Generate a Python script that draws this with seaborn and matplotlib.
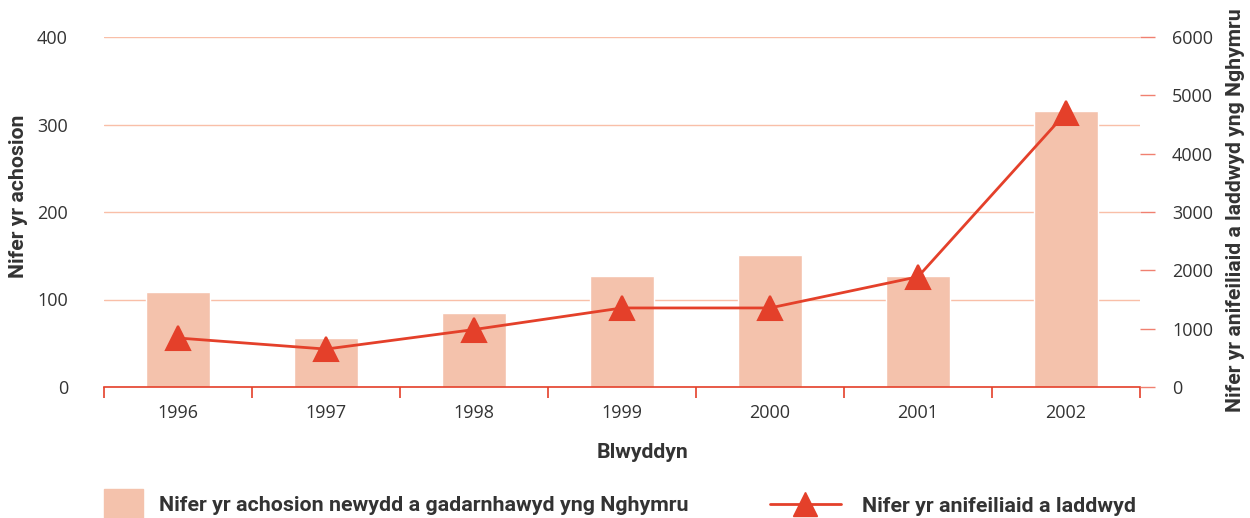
import pandas as pd
import seaborn as sns
import matplotlib.pyplot as plt
from matplotlib.lines import Line2D
from matplotlib.patches import Patch

# data
years = ['1996', '1997', '1998', '1999', '2000', '2001', '2002']
cases = [109, 56, 85, 127, 151, 127, 316]          # left axis, bars
animals = [840, 650, 985, 1355, 1355, 1890, 4700]  # right axis, line
left_ticks = [0, 100, 200, 300, 400]
right_ticks = [0, 1000, 2000, 3000, 4000, 5000, 6000]

bar_label = 'Nifer yr achosion newydd a gadarnhawyd yng Nghymru'
line_label = 'Nifer yr anifeiliaid a laddwyd'

BAR = '#F4C2AC'
RED = '#E4402A'
GRID = '#F9BFA8'
TXT = '#333333'

sns.set_theme(style='white')
plt.rcParams['font.family'] = ['Open Sans', 'DejaVu Sans']

df = pd.DataFrame({'year': years, 'cases': cases, 'animals': animals})

fig = plt.figure(figsize=(12.5, 5.18), dpi=100)
ax = fig.add_axes([104 / 1250, 1 - 387 / 518, 1036 / 1250, 350 / 518])

# bars
sns.barplot(data=df, x='year', y='cases', color=BAR, saturation=1,
            width=0.43, ax=ax, zorder=2)
ax.set_ylim(0, 400)
ax.set_yticks(left_ticks)
ax.yaxis.grid(True, color=GRID, linewidth=1)
ax.xaxis.grid(False)
ax.set_axisbelow(True)

# line on the second axis
ax2 = ax.twinx()
sns.pointplot(data=df, x='year', y='animals', color=RED, marker='^',
              markersize=17, linewidth=2, errorbar=None, ax=ax2)
ax2.set_ylim(0, 6000)
ax2.set_yticks(right_ticks)
ax2.grid(False)

ax.set_xlim(-0.5, len(years) - 0.5)

# spines
for s in ['top', 'left', 'right']:
    ax.spines[s].set_visible(False)
ax.spines['bottom'].set_color(RED)
ax.spines['bottom'].set_linewidth(1.2)
for s in ax2.spines.values():
    s.set_visible(False)

# ticks
ax.set_xticks([i - 0.5 for i in range(len(years) + 1)], minor=True)
ax.tick_params(axis='x', which='minor', bottom=True, length=8, width=1.2,
               color=RED, direction='out')
ax.tick_params(axis='x', which='major', bottom=False, length=0, pad=12,
               labelsize=13, labelcolor=TXT)
ax.tick_params(axis='y', left=False, length=0, pad=26, labelsize=13,
               labelcolor=TXT)
ax2.tick_params(axis='y', right=True, length=11, width=1, color='#F08070',
                pad=12, labelsize=13, labelcolor=TXT)

# axis labels
lab_font = {'family': ['Roboto', 'DejaVu Sans'], 'weight': 'bold',
            'size': 15.3, 'color': TXT}
ax.set_xlabel('Blwyddyn', **lab_font)
ax.xaxis.set_label_coords(0.52, -0.16)
ax.set_ylabel('Nifer yr achosion', **lab_font)
ax.yaxis.set_label_coords(-0.073, 0.546)
ax2.set_ylabel('Nifer yr anifeiliaid a laddwyd yng Nghymru', rotation=90,
               **lab_font)
ax2.yaxis.set_label_coords(1.083, 0.506)

# legends along the bottom
leg_font = {'family': ['Roboto', 'DejaVu Sans'], 'weight': 'bold',
            'size': 15.4}
leg1 = fig.legend(handles=[Patch(color=BAR)], labels=[bar_label],
                  loc='lower left', bbox_to_anchor=(104 / 1250, 0.0),
                  frameon=False, borderpad=0, borderaxespad=0,
                  handlelength=1.8, handleheight=1.7, handletextpad=0.75,
                  prop=leg_font, labelcolor=TXT)
leg2 = fig.legend(handles=[Line2D([], [], color=RED, linewidth=2, marker='^',
                                  markersize=17)],
                  labels=[line_label],
                  loc='lower left', bbox_to_anchor=(770 / 1250, 0.004),
                  frameon=False, borderpad=0, borderaxespad=0,
                  handlelength=3.3, handletextpad=1.0,
                  prop=leg_font, labelcolor=TXT)

fig.savefig('out.png', dpi=100)
